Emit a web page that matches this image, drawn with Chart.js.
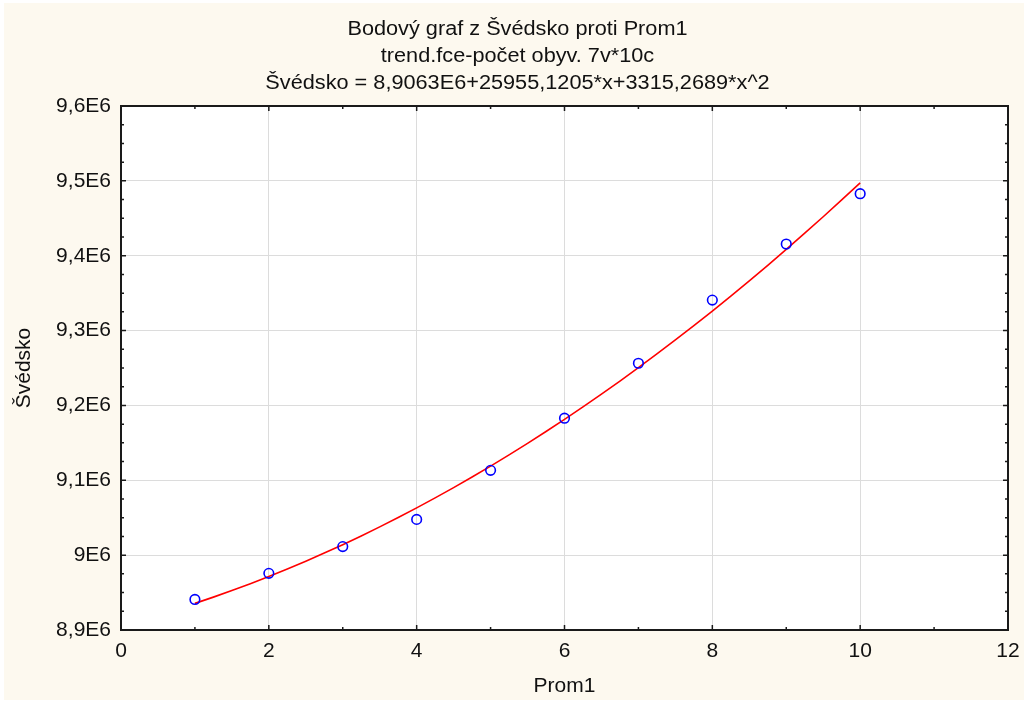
<!DOCTYPE html>
<html>
<head>
<meta charset="utf-8">
<script src="https://cdn.jsdelivr.net/npm/chart.js@4/dist/chart.umd.min.js"></script>
<style>
  html, body { margin: 0; padding: 0; background: #ffffff; }
  #wrap { position: absolute; left: 4px; top: 3px; width: 1020px; height: 697px; background: #fdf9ef; }
  canvas { display: block; }
</style>
</head>
<body>
<div id="wrap"><canvas id="c" width="1020" height="697"></canvas></div>
<script>
// Population of Sweden vs. time index (Prom1)
const prom1 = [1, 2, 3, 4, 5, 6, 7, 8, 9, 10];
const svedsko = [8940788, 8975670, 9011392, 9047752, 9113257, 9182927, 9256347, 9340682, 9415570, 9482855];

// Quadratic trend coefficients, as printed in the heading: a + b*x + c*x^2
const trendCoef = [8.9063e6, 25955.1205, 3315.2689];
const trendRange = [1, 10];

const titleLines = [
  'Bodový graf z Švédsko proti Prom1',
  'trend.fce-počet obyv. 7v*10c',
  'Švédsko = 8,9063E6+25955,1205*x+3315,2689*x^2'
];
const xTickLabels = ['0', '2', '4', '6', '8', '10', '12'];
const yTickLabels = ['8,9E6', '9E6', '9,1E6', '9,2E6', '9,3E6', '9,4E6', '9,5E6', '9,6E6'];
const xTitle = 'Prom1';
const yTitle = 'Švédsko';

const FONT = '"Liberation Sans", Arial, sans-serif';
const FS = 21;

// Trend curve sampled along the fitted polynomial
const trendPts = [];
for (let i = 0; i <= 36; i++) {
  const x = trendRange[0] + (trendRange[1] - trendRange[0]) * i / 36;
  trendPts.push({ x: x, y: trendCoef[0] + trendCoef[1] * x + trendCoef[2] * x * x });
}

const framePlugin = {
  id: 'frame',
  beforeDraw(chart) {
    const { ctx, chartArea: a } = chart;
    ctx.save();
    ctx.fillStyle = '#ffffff';
    ctx.fillRect(a.left, a.top, a.right - a.left, a.bottom - a.top);
    ctx.restore();
  },
  afterDraw(chart) {
    const { ctx, chartArea: a, scales } = chart;
    const xs = scales.x, ys = scales.y;
    ctx.save();
    // heading, slightly widened type
    ctx.fillStyle = '#111';
    ctx.font = '20px ' + FONT;
    ctx.textAlign = 'center';
    ctx.textBaseline = 'middle';
    titleLines.forEach((t, i) => {
      ctx.save();
      ctx.translate(513.5, 26 + i * 27);
      ctx.scale(1.085, 1);
      ctx.fillText(t, 0, 0);
      ctx.restore();
    });

    // frame
    ctx.strokeStyle = '#1a1a1a';
    ctx.lineWidth = 2;
    ctx.strokeRect(a.left, a.top, a.right - a.left, a.bottom - a.top);

    // inward tick marks
    ctx.lineWidth = 1.5;
    ctx.beginPath();
    const yStep = 1e5;
    ys.ticks.forEach((t) => {
      for (let k = 0; k < 4; k++) {
        const v = t.value + k * yStep / 4;
        if (v > ys.max) break;
        const p = ys.getPixelForValue(v);
        const len = k === 0 ? 5 : 3;
        ctx.moveTo(a.left, p); ctx.lineTo(a.left + len, p);
        ctx.moveTo(a.right, p); ctx.lineTo(a.right - len, p);
      }
    });
    for (let v = xs.min; v <= xs.max; v += 1) {
      const p = xs.getPixelForValue(v);
      const len = v % 2 === 0 ? 5 : 3;
      ctx.moveTo(p, a.bottom); ctx.lineTo(p, a.bottom - len);
      ctx.moveTo(p, a.top); ctx.lineTo(p, a.top + len);
    }
    ctx.stroke();
    ctx.restore();
  }
};

new Chart(document.getElementById('c'), {
  type: 'scatter',
  data: {
    datasets: [
      {
        label: 'Švédsko',
        data: prom1.map((x, i) => ({ x: x, y: svedsko[i] })),
        showLine: false,
        pointStyle: 'circle',
        pointRadius: 4.8,
        pointBorderWidth: 1.6,
        pointBorderColor: '#0000ff',
        pointBackgroundColor: 'rgba(0,0,0,0)'
      },
      {
        label: 'trend',
        data: trendPts,
        showLine: true,
        borderColor: '#ff0000',
        borderWidth: 1.6,
        pointRadius: 0,
        tension: 0
      }
    ]
  },
  options: {
    responsive: false,
    animation: false,
    layout: { padding: { left: 0, right: 16, top: 103, bottom: 0 } },
    plugins: {
      legend: { display: false },
      title: { display: false },
      tooltip: { enabled: false }
    },
    scales: {
      x: {
        type: 'linear',
        min: 0, max: 12,
        afterFit(s) { s.height = 70; s.paddingLeft = 0; s.paddingRight = 0; },
        ticks: {
          stepSize: 2,
          autoSkip: false,
          maxRotation: 0,
          padding: 9,
          color: '#111',
          font: { family: FONT, size: FS },
          callback: (v, i) => xTickLabels[i]
        },
        grid: { color: '#dcdcdc', lineWidth: 1, drawTicks: false },
        border: { display: false },
        title: {
          display: true,
          text: xTitle,
          color: '#111',
          font: { family: FONT, size: FS },
          padding: { top: 0, bottom: 1 }
        }
      },
      y: {
        type: 'linear',
        min: 8.9e6, max: 9.6e6,
        afterFit(s) { s.width = 117; s.paddingTop = 0; s.paddingBottom = 0; },
        ticks: {
          stepSize: 1e5,
          autoSkip: false,
          padding: 10,
          color: '#111',
          font: { family: FONT, size: FS },
          callback: (v, i) => yTickLabels[i]
        },
        grid: { color: '#dcdcdc', lineWidth: 1, drawTicks: false },
        border: { display: false },
        title: {
          display: true,
          text: yTitle,
          color: '#111',
          font: { family: FONT, size: FS },
          padding: { top: 8, bottom: 0 }
        }
      }
    }
  },
  plugins: [framePlugin]
});
</script>
</body>
</html>
